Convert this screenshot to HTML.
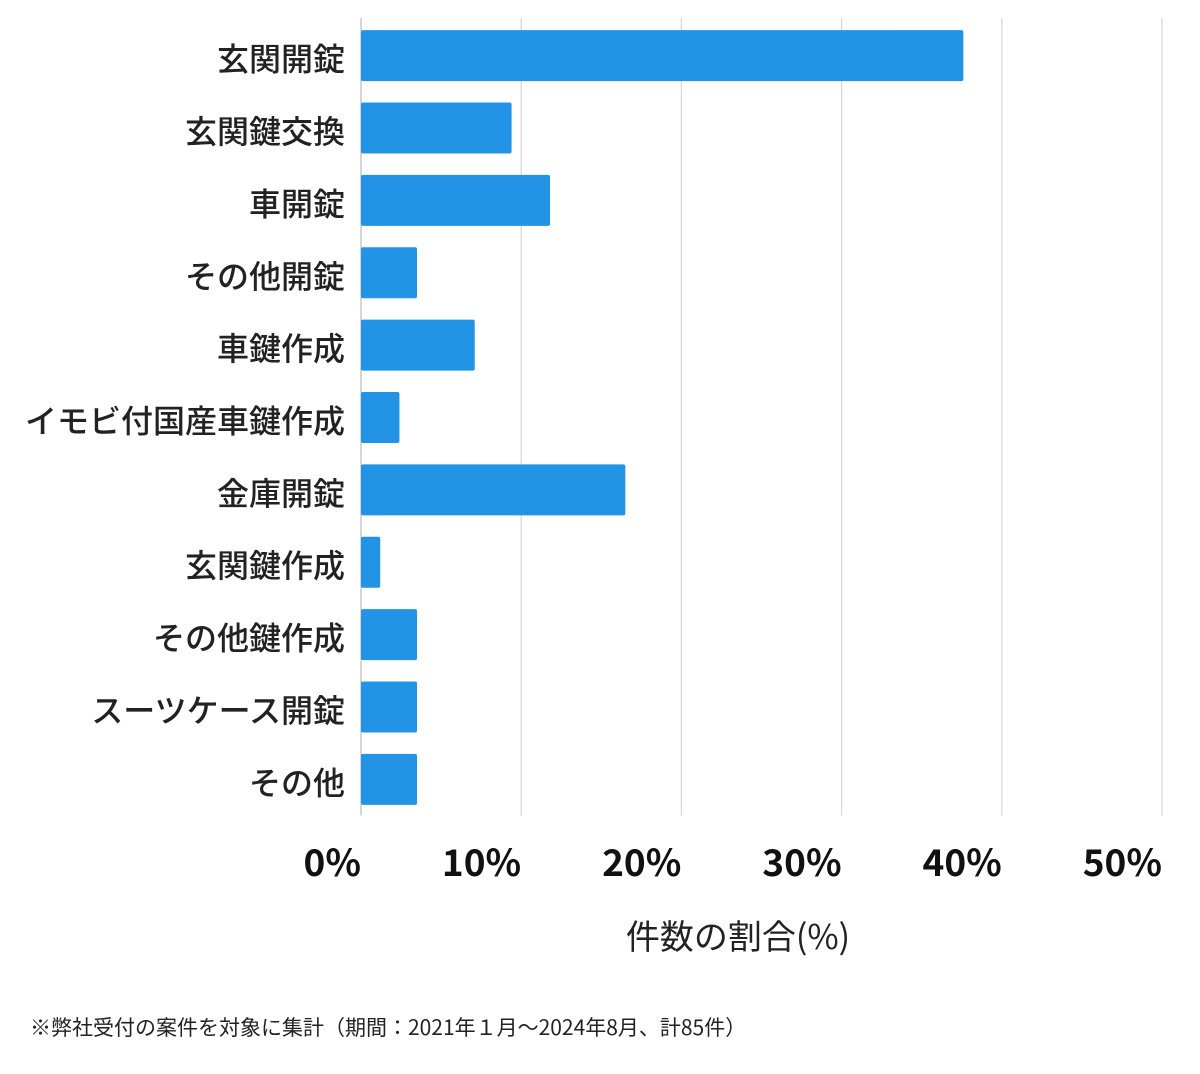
<!DOCTYPE html>
<html><head><meta charset="utf-8">
<style>
body{margin:0;background:#fff;}
svg text{font-family:"Noto Sans CJK JP","Liberation Sans",sans-serif;}
</style></head>
<body>
<svg id="chart" width="1200" height="1069" viewBox="0 0 1200 1069" xmlns="http://www.w3.org/2000/svg">
<g id="grid"></g><g id="bars"></g><g id="ylabels"></g><g id="xticks"></g>
<text x="738" y="949" font-size="34" text-anchor="middle" fill="#222">件数の割合(%)</text>
<text x="30" y="1035" font-size="21" fill="#222">※弊社受付の案件を対象に集計（期間：2021年１月〜2024年8月、計85件）</text>
</svg>
<script>
const categories=["玄関開錠","玄関鍵交換","車開錠","その他開錠","車鍵作成","イモビ付国産車鍵作成","金庫開錠","玄関鍵作成","その他鍵作成","スーツケース開錠","その他"];
const values=[37.6,9.4,11.8,3.5,7.1,2.4,16.5,1.2,3.5,3.5,3.5];
const ticks=[0,10,20,30,40,50];
const ns="http://www.w3.org/2000/svg";
const x0=361,x1=1162,xmax=50,top0=19.5,bottom=815.5;
const xs=v=>x0+(x1-x0)*v/xmax;
const pitch=(bottom-top0)/categories.length;
const bh=51;
function mk(t,a,p){const e=document.createElementNS(ns,t);for(const k in a)e.setAttribute(k,a[k]);p.appendChild(e);return e;}
const G=document.getElementById('grid'),B=document.getElementById('bars'),Y=document.getElementById('ylabels'),X=document.getElementById('xticks');
ticks.forEach(t=>{
 const l=mk('line',{x1:xs(t),x2:xs(t),y1:18,y2:bottom,stroke:t===0?'#bbb':'#d6d6d6','stroke-width':1.2},G);
 
 
 const tx=mk('text',{x:xs(t),y:876,'font-size':37,'font-weight':'bold','text-anchor':'end',fill:'#111'},X);
 tx.textContent=t+'%';
 
 
});
categories.forEach((c,i)=>{
 const cy=top0+pitch*(i+0.5);
 const r=mk('rect',{x:x0,y:cy-bh/2,width:xs(values[i])-x0,height:bh,rx:2,fill:'#2394e5'},B);
 
 
 const tx=mk('text',{x:345,y:cy+15,'font-size':32,'font-weight':500,'text-anchor':'end',fill:'#222'},Y);
 tx.textContent=c;
 
 
});
</script>
</body></html>
